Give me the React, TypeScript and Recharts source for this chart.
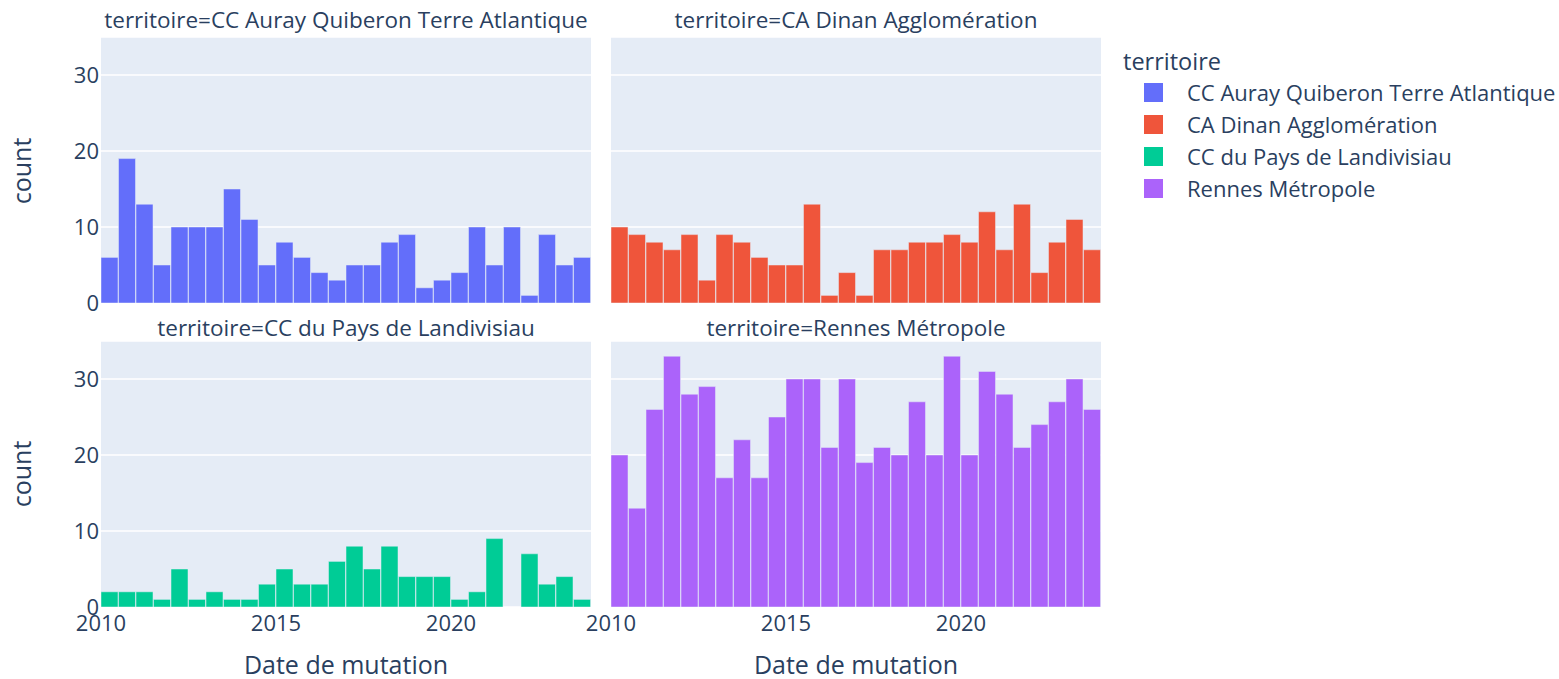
import React from "react";
import { BarChart, Bar, XAxis, YAxis, CartesianGrid } from "recharts";

// half-year bins, 2010 -> 2024
const binLabels = [
  "2010-01", "2010-07", "2011-01", "2011-07", "2012-01", "2012-07", "2013-01",
  "2013-07", "2014-01", "2014-07", "2015-01", "2015-07", "2016-01", "2016-07",
  "2017-01", "2017-07", "2018-01", "2018-07", "2019-01", "2019-07", "2020-01",
  "2020-07", "2021-01", "2021-07", "2022-01", "2022-07", "2023-01", "2023-07",
];

const auray = [6, 19, 13, 5, 10, 10, 10, 15, 11, 5, 8, 6, 4, 3, 5, 5, 8, 9, 2, 3, 4, 10, 5, 10, 1, 9, 5, 6];
const dinan = [10, 9, 8, 7, 9, 3, 9, 8, 6, 5, 5, 13, 1, 4, 1, 7, 7, 8, 8, 9, 8, 12, 7, 13, 4, 8, 11, 7];
const landivisiau = [2, 2, 2, 1, 5, 1, 2, 1, 1, 3, 5, 3, 3, 6, 8, 5, 8, 4, 4, 4, 1, 2, 9, 0, 7, 3, 4, 1];
const rennes = [20, 13, 26, 33, 28, 29, 17, 22, 17, 25, 30, 30, 21, 30, 19, 21, 20, 27, 20, 33, 20, 31, 28, 21, 24, 27, 30, 26];

const territoires = [
  "CC Auray Quiberon Terre Atlantique",
  "CA Dinan Agglomération",
  "CC du Pays de Landivisiau",
  "Rennes Métropole",
];
const colors = ["#636efa", "#EF553B", "#00cc96", "#ab63fa"];
const xTicks = [2010, 2015, 2020];
const yTicks = [0, 10, 20, 30];

const FONT = '"Open Sans", verdana, arial, sans-serif';
const TEXT = "#2a3f5f";

// bin label -> bin middle as decimal year
const binMid = (b: string) => {
  const [y, m] = b.split("-").map(Number);
  return y + (m === 1 ? 0.25 : 0.75);
};

const PLOT_W = 490;
const PLOT_H = 266;

function Panel({
  values,
  color,
  left,
  top,
  showY,
  showX,
}: {
  values: number[];
  color: string;
  left: number;
  top: number;
  showY: boolean;
  showX: boolean;
}) {
  const data = binLabels.map((b, i) => ({ mid: binMid(b), count: values[i] }));
  const padL = showY ? 60 : 30;
  const padT = 15;
  const xh = showX ? 40 : 0;
  return (
    <div style={{ position: "absolute", left: left - padL, top: top - padT }}>
      <BarChart
        width={PLOT_W + padL + 30}
        height={PLOT_H + padT + xh + 15}
        data={data}
        margin={{ top: padT, right: 30, bottom: 15, left: showY ? 0 : 30 }}
        barCategoryGap={0}
        barGap={0}
      >
        <CartesianGrid vertical={false} fill="#E5ECF6" stroke="#ffffff" strokeWidth={1.5} />
        <XAxis
          dataKey="mid"
          type="number"
          domain={[2010, 2024]}
          ticks={xTicks}
          interval={0}
          allowDataOverflow
          hide={!showX}
          height={40}
          axisLine={false}
          tickLine={false}
          tickSize={0}
          tickMargin={8}
          tick={{ fill: TEXT, fontSize: 22, fontFamily: FONT }}
        />
        <YAxis
          type="number"
          domain={[0, 35]}
          ticks={yTicks}
          interval={0}
          allowDataOverflow
          hide={!showY}
          width={60}
          axisLine={false}
          tickLine={false}
          tickSize={0}
          tickMargin={2}
          tick={{ fill: TEXT, fontSize: 22, fontFamily: FONT }}
        />
        <Bar dataKey="count" fill={color} stroke="#E5ECF6" strokeWidth={0.5} isAnimationActive={false} />
      </BarChart>
    </div>
  );
}

const label = (text: string, x: number, y: number, size: number, extra: React.CSSProperties = {}) => (
  <div
    style={{
      position: "absolute",
      left: x,
      top: y,
      transform: "translate(-50%, -50%)",
      whiteSpace: "nowrap",
      fontSize: size,
      lineHeight: 1.1,
      color: TEXT,
      fontFamily: FONT,
      ...extra,
    }}
  >
    {text}
  </div>
);

export default function App() {
  return (
    <div
      style={{
        position: "absolute",
        left: 0,
        top: 0,
        width: 1559,
        height: 679,
        background: "#ffffff",
        fontFamily: FONT,
      }}
    >
      <Panel values={auray} color={colors[0]} left={101} top={37} showY showX={false} />
      <Panel values={dinan} color={colors[1]} left={611} top={37} showY={false} showX={false} />
      <Panel values={landivisiau} color={colors[2]} left={101} top={341} showY showX />
      <Panel values={rennes} color={colors[3]} left={611} top={341} showY={false} showX />

      {label("territoire=" + territoires[0], 346, 20, 22.5)}
      {label("territoire=" + territoires[1], 856, 20, 22.5)}
      {label("territoire=" + territoires[2], 346, 328, 22.5)}
      {label("territoire=" + territoires[3], 856, 328, 22.5)}

      {label("count", 22, 171, 25, { transform: "translate(-50%, -50%) rotate(-90deg)" })}
      {label("count", 22, 474, 25, { transform: "translate(-50%, -50%) rotate(-90deg)" })}
      {label("Date de mutation", 346, 665, 25)}
      {label("Date de mutation", 856, 665, 25)}

      <div style={{ position: "absolute", left: 1123, top: 46, fontSize: 23.5, color: TEXT, lineHeight: "30px" }}>
        territoire
      </div>
      {territoires.map((t, i) => (
        <div key={t} style={{ position: "absolute", left: 1144, top: 81 + i * 32, height: 22, display: "flex", alignItems: "center" }}>
          <div style={{ width: 19, height: 19, background: colors[i] }} />
          <span style={{ marginLeft: 24, fontSize: 22, color: TEXT, whiteSpace: "nowrap" }}>{t}</span>
        </div>
      ))}
    </div>
  );
}
